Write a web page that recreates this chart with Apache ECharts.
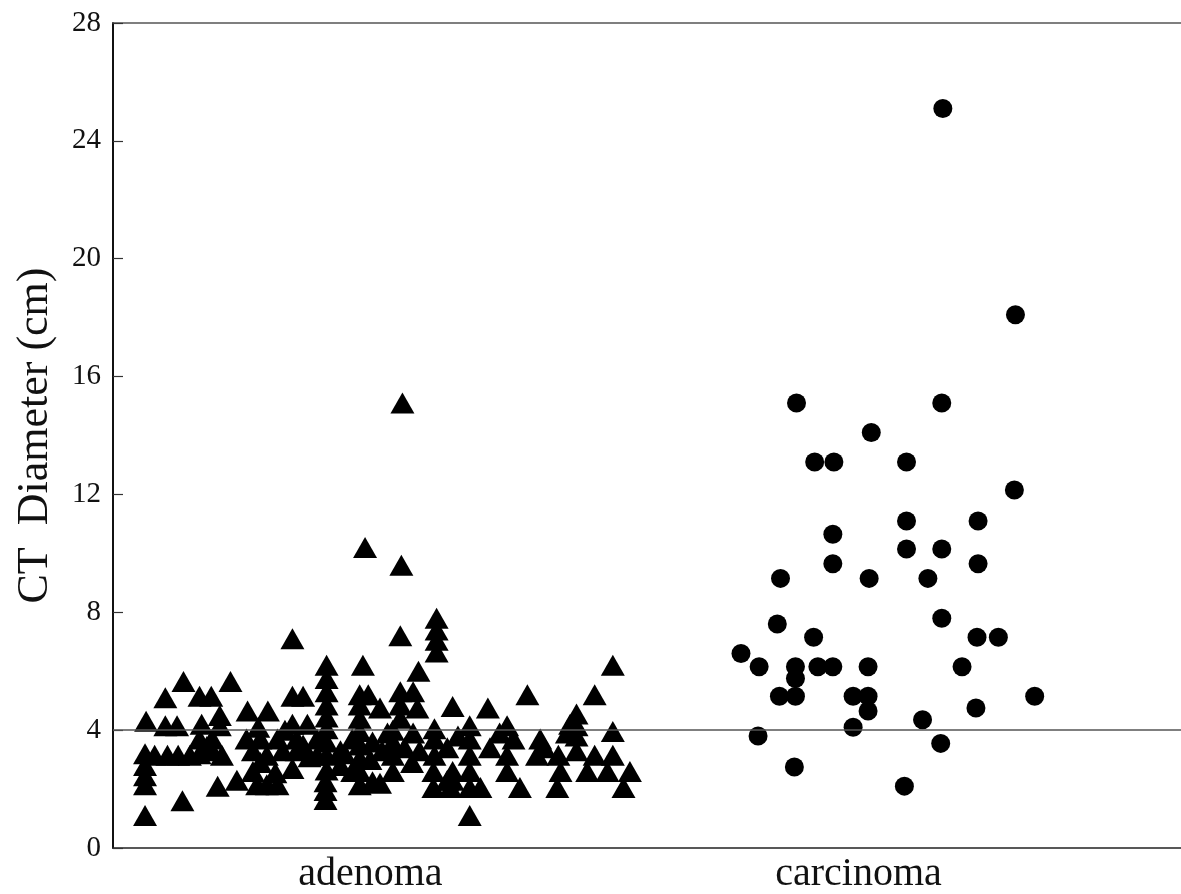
<!DOCTYPE html>
<html>
<head>
<meta charset="utf-8">
<title>CT Diameter</title>
<script src="https://cdn.jsdelivr.net/npm/echarts/dist/echarts.min.js"></script>
<style>
  html, body { margin: 0; padding: 0; background: #fff; }
  #main { width: 1181px; height: 894px; }
</style>
</head>
<body>
<div id="main"></div>
<script type="text/javascript">
// group labels and where they sit on the jitter axis (0-100)
var groupNames = ['adenoma', 'carcinoma'];
var groupCenters = [24.1, 69.8];

// y axis ticks
var yTicks = [0, 4, 8, 12, 16, 20, 24, 28];
var cutoff = 4; // horizontal reference line (cm)

// [jitter position, CT diameter cm]
var adenomaPoints = [
  [3.0,1.1],[6.5,1.6],[3.1,4.3],[4.9,4.15],[6.0,4.15],[4.9,5.1],[6.6,5.65],[8.1,5.15],[9.2,5.15],[11.0,5.65],
  [8.3,4.2],[10.0,4.5],[10.0,4.15],[3.0,3.2],[3.0,2.8],[3.0,2.45],[3.0,2.15],[3.9,3.15],[5.1,3.15],[6.1,3.15],
  [7.2,3.15],[8.1,3.7],[9.3,3.7],[8.1,3.2],[9.3,3.3],[10.2,3.15],[8.8,3.45],[9.8,2.1],[11.6,2.3],[13.5,2.15],
  [14.4,2.15],[15.4,2.15],[13.1,2.6],[12.5,3.7],[13.8,3.7],[15.4,3.7],[13.1,3.3],[14.4,3.15],[15.9,3.3],[12.6,4.65],
  [14.5,4.65],[13.6,4.1],[16.8,2.7],[17.2,3.7],[17.2,3.3],[16.8,4.2],[16.8,5.15],[17.8,5.15],[16.8,7.1],[13.8,2.9],
  [15.2,2.55],[16.1,4.0],[17.8,3.5],[18.4,3.1],[19.1,3.7],[19.1,3.15],[18.2,4.2],
  [20.0,6.2],[20.0,5.75],[20.0,5.3],[20.0,4.85],[20.0,4.45],[20.0,4.05],[20.0,3.6],[20.0,3.15],[20.0,2.65],
  [19.9,2.25],[19.9,1.95],[19.9,1.65],[21.3,3.3],[21.3,2.8],[21.7,3.2],
  [23.4,6.2],[23.1,5.2],[23.9,5.2],[23.1,4.85],[23.1,4.4],[23.1,3.95],[23.1,3.5],[23.1,3.05],[23.1,2.6],[23.1,2.15],
  [24.3,2.25],[25.0,2.2],[25.0,4.75],[24.3,3.6],[25.2,3.3],[24.1,3.0],[22.4,3.7],[22.4,2.6],[25.7,3.9],
  [26.9,7.2],[27.1,15.1],[23.6,10.2],[27.0,9.6],[26.9,5.3],[26.9,4.85],[26.9,4.4],[28.1,5.3],[28.5,4.75],[28.6,6.0],
  [26.2,4.0],[26.2,3.6],[26.2,3.15],[26.2,2.6],[27.3,3.4],[28.1,3.9],[28.7,3.3],[28.0,2.9],
  [30.3,7.8],[30.3,7.4],[30.3,7.05],[30.3,6.65],[30.1,4.05],[30.1,3.7],[30.1,3.15],[30.0,2.6],[30.0,2.05],[31.3,2.3],
  [31.6,2.05],[31.8,4.8],[31.8,2.6],[31.8,2.3],[31.3,3.4],[32.3,3.8],
  [33.4,4.15],[33.4,3.7],[33.4,3.15],[33.4,2.6],[33.4,2.05],[33.4,1.1],[34.4,2.05],[35.1,4.75],[35.3,3.4],[36.2,3.9],
  [36.9,4.15],[36.9,3.15],[36.9,2.6],[37.5,3.7],[38.1,2.05],[38.8,5.2],[39.7,3.15],[40.0,3.7],[40.4,3.4],[41.7,3.15],
  [41.9,2.6],[41.6,2.05],
  [42.8,4.2],[43.4,4.55],[43.4,4.15],[43.4,3.8],[42.5,3.9],[43.4,3.3],[44.4,2.6],[45.1,5.2],[45.1,3.15],[46.3,2.6],
  [46.8,6.2],[46.8,3.95],[46.8,3.15],[47.8,2.05],[48.4,2.6]
];

var carcinomaPoints = [
  [77.7,25.1],[84.5,18.1],[64.0,15.1],[77.6,15.1],[71.0,14.1],[65.7,13.1],[67.5,13.1],[74.3,13.1],[84.4,12.15],
  [74.3,11.1],[81.0,11.1],[67.4,10.65],[74.3,10.15],[77.6,10.15],[67.4,9.65],[81.0,9.65],[62.5,9.15],[70.8,9.15],
  [76.3,9.15],[62.2,7.6],[77.6,7.8],[65.6,7.15],[80.9,7.15],[82.9,7.15],[58.8,6.6],[60.5,6.15],[63.9,6.15],
  [66.0,6.15],[67.4,6.15],[70.7,6.15],[79.5,6.15],[63.9,5.75],[62.4,5.15],[63.9,5.15],[69.3,5.15],[70.7,5.15],
  [86.3,5.15],[70.7,4.65],[80.8,4.75],[69.3,4.1],[75.8,4.35],[60.4,3.8],[77.5,3.55],[63.8,2.75],[74.1,2.1]
];

var FONT = '"Liberation Serif", "Times New Roman", serif';

var chart = echarts.init(document.getElementById('main'));

var option = {
  animation: false,
  backgroundColor: '#fff',
  grid: { left: 113, right: 0, top: 23, bottom: 44 },
  xAxis: [
    {
      type: 'value',
      min: 0,
      max: 100,
      splitLine: { show: false },
      axisLine: { lineStyle: { color: '#222', width: 1.5 } },
      axisTick: { show: false },
      axisLabel: {
        customValues: groupCenters,
        margin: 6,
        color: '#111',
        fontFamily: FONT,
        fontSize: 40,
        formatter: function (v) {
          var i = groupCenters.indexOf(v);
          return i >= 0 ? groupNames[i] : '';
        }
      }
    },
    {
      // top frame line only
      type: 'value',
      position: 'top',
      min: 0,
      max: 100,
      splitLine: { show: false },
      axisLine: { lineStyle: { color: '#555', width: 1.5 } },
      axisTick: { show: false },
      axisLabel: { show: false }
    }
  ],
  yAxis: {
    type: 'value',
    min: 0,
    max: 28,
    interval: 4,
    name: 'CT  Diameter (cm)',
    nameLocation: 'middle',
    nameRotate: 90,
    nameGap: 56,
    nameTextStyle: { color: '#111', fontFamily: FONT, fontSize: 44 },
    splitLine: { show: false },
    axisLine: { lineStyle: { color: '#111', width: 2 } },
    axisTick: { inside: true, length: 10, lineStyle: { color: '#333', width: 1.2 } },
    axisLabel: {
      margin: 12,
      color: '#111',
      fontFamily: FONT,
      fontSize: 29,
      customValues: yTicks
    }
  },
  series: [
    {
      name: 'adenoma',
      type: 'scatter',
      symbol: 'triangle',
      symbolSize: [24, 21],
      itemStyle: { color: '#000', opacity: 1 },
      data: adenomaPoints
    },
    {
      name: 'carcinoma',
      type: 'scatter',
      symbol: 'circle',
      symbolSize: 19,
      itemStyle: { color: '#000', opacity: 1 },
      data: carcinomaPoints,
      markLine: {
        silent: true,
        symbol: 'none',
        label: { show: false },
        lineStyle: { color: '#555', width: 1.5, type: 'solid' },
        data: [{ yAxis: cutoff }]
      }
    }
  ]
};

chart.setOption(option);
</script>
</body>
</html>
